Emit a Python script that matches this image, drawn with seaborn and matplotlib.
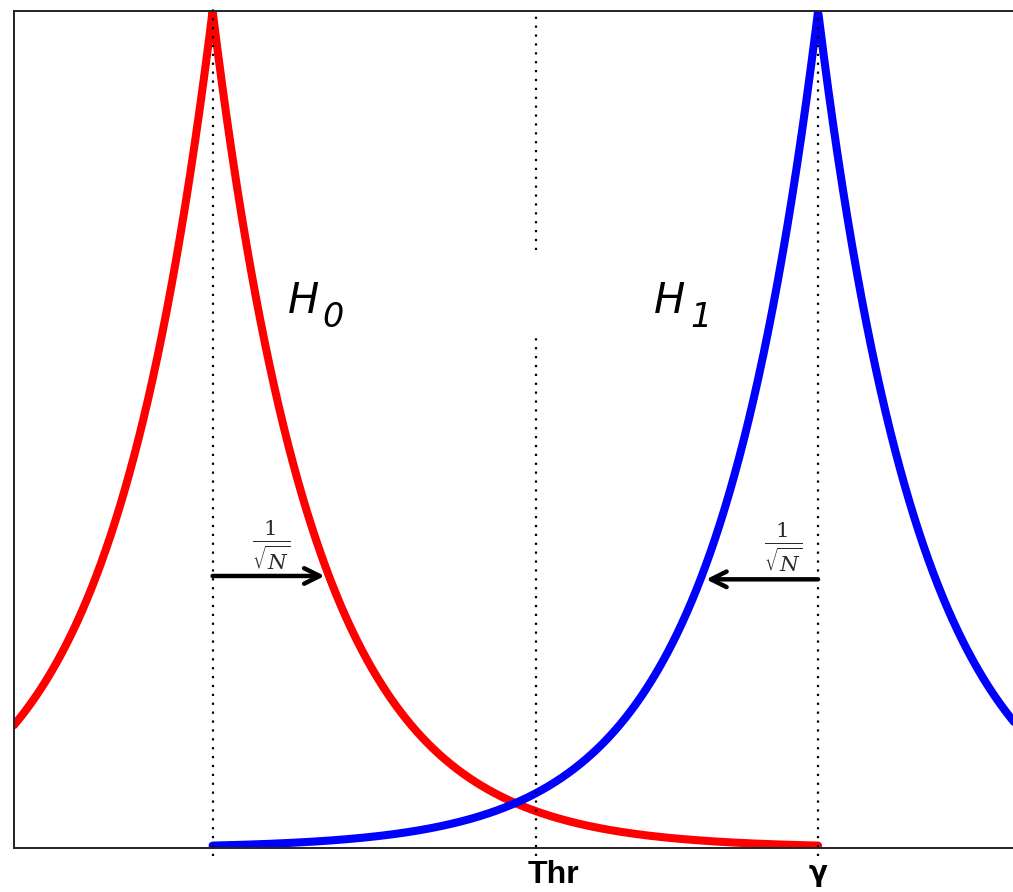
import numpy as np
import pandas as pd
import matplotlib
matplotlib.use("Agg")
import matplotlib.pyplot as plt
from matplotlib import font_manager
import seaborn as sns

# Hypothesis parameters (Laplace-shaped likelihoods, peak normalised to 1)
h0_center = 0.0          # location of H0
h1_center = 1.0          # location of H1 (gamma)
decay_rate = 5.85        # exponential decay of both curves
threshold = 0.534        # decision threshold "Thr"
step_len = 0.185         # 1/sqrt(N) offset shown with arrows
arrow_level = 0.325      # height at which the offsets are drawn

hypotheses = ["H0", "H1"]
tick_positions = [threshold, h1_center]
tick_labels = ["Thr", "γ"]

x_lo, x_hi = -0.328, 1.35

# Curves: H0 drawn up to gamma, H1 drawn from the H0 location onward
x0 = np.linspace(x_lo, h1_center, 1200)
x1 = np.linspace(h0_center, x_hi, 1200)
df = pd.concat([
    pd.DataFrame({"x": x0, "y": np.exp(-decay_rate * np.abs(x0 - h0_center)), "hyp": "H0"}),
    pd.DataFrame({"x": x1, "y": np.exp(-decay_rate * np.abs(x1 - h1_center)), "hyp": "H1"}),
])

sns.set_style("white")

fig = plt.figure(figsize=(10.13, 8.92), dpi=100)
ax = fig.add_axes([14 / 1013, 44 / 892, 1016 / 1013, 837 / 892])

sns.lineplot(data=df, x="x", y="y", hue="hyp", hue_order=hypotheses,
             palette={"H0": "#ff0000", "H1": "#0000ff"}, linewidth=5.8,
             legend=False, sort=False, ax=ax)

ax.set_xlim(x_lo, x_hi)
ax.set_ylim(0, 1)

dot = (0, (1, 3))
ax.axvline(h0_center, ymin=-0.01, ymax=1.01, color="black", lw=1.6, ls=dot, clip_on=False)
ax.axvline(h1_center, ymin=-0.01, ymax=1.0, color="black", lw=1.6, ls=dot, clip_on=False)
ax.axvline(threshold, ymin=-0.01, ymax=0.613, color="black", lw=1.6, ls=dot, clip_on=False)
ax.axvline(threshold, ymin=0.714, ymax=1.0, color="black", lw=1.6, ls=dot, clip_on=False)

# 1/sqrt(N) offsets
arrow_kw = dict(arrowstyle="->", lw=3.2, color="black", mutation_scale=28,
                shrinkA=0, shrinkB=0)
ax.annotate("", xy=(h0_center + step_len, arrow_level), xytext=(h0_center, arrow_level),
            arrowprops=arrow_kw)
ax.annotate("", xy=(h1_center - step_len, arrow_level - 0.004),
            xytext=(h1_center, arrow_level - 0.004), arrowprops=arrow_kw)
frac = r"$\frac{1}{\sqrt{N}}$"
ax.text(h0_center + 0.097, 0.362, frac, ha="center", va="center", fontsize=22,
        color="#2a2a2a", math_fontfamily="dejavuserif")
ax.text(h1_center - 0.058, 0.360, frac, ha="center", va="center", fontsize=22,
        color="#2a2a2a", math_fontfamily="dejavuserif")

# Hypothesis names with italic subscripts
name_kw = dict(family="DejaVu Sans", style="italic", color="black", va="baseline", ha="left")
ax.text(0.1236, 0.639, "H", fontsize=30, **name_kw)
ax.text(0.181, 0.6225, "0", fontsize=24, **name_kw)
ax.text(0.728, 0.639, "H", fontsize=30, **name_kw)
ax.text(0.789, 0.6225, "1", fontsize=24, **name_kw)

# Axis labels under the threshold and gamma positions (baseline-anchored)
installed = {f.name for f in font_manager.fontManager.ttflist}
thr_family = "Liberation Sans Narrow" if "Liberation Sans Narrow" in installed else "Liberation Sans"
label_style = [
    dict(family=thr_family, fontsize=23, ha="left", dx=-8, dy=-35),
    dict(family="DejaVu Sans", fontsize=20, ha="center", dx=0, dy=-33),
]
ax.set_xticks([])
ax.set_yticks([])
for pos, lab, st in zip(tick_positions, tick_labels, label_style):
    ax.annotate(lab, xy=(pos, 0), xycoords=("data", "axes fraction"),
                xytext=(st["dx"], st["dy"]), textcoords="offset pixels",
                ha=st["ha"], va="baseline", fontsize=st["fontsize"], family=st["family"],
                fontweight="bold", color="black", annotation_clip=False)

ax.set_xlabel("")
ax.set_ylabel("")
for s in ax.spines.values():
    s.set_color("#222222")
    s.set_linewidth(1.4)

fig.savefig("out.png", dpi=100, facecolor="white")
